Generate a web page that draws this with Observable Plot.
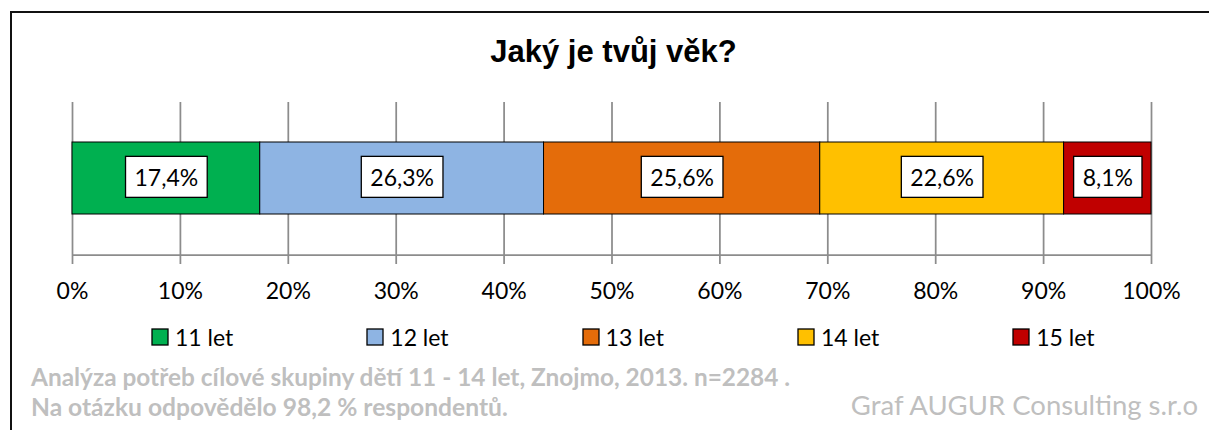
<!DOCTYPE html>
<html><head><meta charset="utf-8">
<script src="https://cdn.jsdelivr.net/npm/d3@7"></script>
<script src="https://cdn.jsdelivr.net/npm/@observablehq/plot@0.6"></script>
<style>
html,body{margin:0;padding:0;background:#fff;overflow:hidden;}
#wrap{position:relative;width:1209px;height:430px;overflow:hidden;background:#fff;}
#frameTop{position:absolute;left:10px;top:11px;width:1400px;height:2px;background:#111;}
#frameLeft{position:absolute;left:10px;top:11px;width:2px;height:419px;background:#111;}
#title{position:absolute;left:0;width:1209px;padding-left:18px;box-sizing:border-box;top:36px;text-align:center;font:bold 31px "Liberation Sans",Arial,sans-serif;line-height:31px;color:#000;white-space:nowrap;}
#chart{position:absolute;left:0;top:0;}
#legend{position:absolute;left:152px;top:323px;}
#legend .lg-swatches{margin:0 !important;font-family:Lato,sans-serif !important;font-size:23px !important;color:#000 !important;min-height:0 !important;display:flex !important;flex-wrap:nowrap !important;}
#legend .lg-swatch{width:215.3px !important;margin:0 !important;display:inline-flex !important;align-items:center !important;}
#legend .lg-swatch svg{margin-right:7px !important;overflow:visible;}
#legend .lg-swatch svg rect{stroke:#000;stroke-width:1.3px;}
.note{position:absolute;color:#bfbfbf;font-family:Lato,sans-serif;white-space:nowrap;}
#note1{left:31px;top:365px;font-size:24.4px;font-weight:bold;line-height:24.4px;}
#note2{left:31px;top:395px;font-size:24.6px;font-weight:bold;line-height:24.6px;}
#credit{right:11px;top:391px;font-size:27.5px;line-height:27.5px;}
</style>
</head><body>
<div id="wrap">
  <div id="frameTop"></div>
  <div id="frameLeft"></div>
  <div id="title"></div>
  <div id="chart"></div>
  <div id="legend"></div>
  <div class="note" id="note1"></div>
  <div class="note" id="note2"></div>
  <div class="note" id="credit"></div>
</div>
<script>
const question = "Jaký je tvůj věk?";
const ages = ["11 let", "12 let", "13 let", "14 let", "15 let"];
const shares = [17.4, 26.3, 25.6, 22.6, 8.1];
const colors = ["#00B050", "#8EB4E3", "#E46C0A", "#FFC000", "#C00000"];
const xTicks = [0, 10, 20, 30, 40, 50, 60, 70, 80, 90, 100];
const noteLines = [
  "Analýza potřeb cílové skupiny dětí 11 - 14 let, Znojmo, 2013. n=2284 .",
  "Na otázku odpovědělo 98,2 % respondentů."
];
const credit = "Graf AUGUR Consulting s.r.o";

const data = ages.map((age, i) => ({age, share: shares[i], q: question}));
const fmt = v => v.toFixed(1).replace(".", ",") + "%";
const gridColor = "#8c8c8c";

document.getElementById("title").textContent = question;
document.getElementById("note1").textContent = noteLines[0];
document.getElementById("note2").textContent = noteLines[1];
document.getElementById("credit").textContent = credit;

const chart = Plot.plot({
  width: 1209,
  height: 320,
  marginLeft: 72,
  marginRight: 58,
  marginTop: 102,
  marginBottom: 65,
  style: {background: "transparent", fontFamily: "Lato, sans-serif", fontSize: "23px", color: "#000", overflow: "visible"},
  x: {domain: [0, 100], label: null, axis: null},
  y: {axis: null, padding: 0.354, label: null},
  color: {domain: ages, range: colors},
  marks: [
    Plot.ruleX(xTicks, {stroke: gridColor, strokeWidth: 1.75}),
    Plot.axisX({ticks: xTicks, tickFormat: d => d + "%", tickSize: 9, tickPadding: 18, stroke: gridColor, strokeWidth: 1.75, fill: "#000", label: null, fontSize: 23}),
    (index, scales, values, dims) => {
      const y = dims.height - dims.marginBottom;
      return d3.create("svg:line")
        .attr("x1", scales.x(0)).attr("x2", scales.x(100))
        .attr("y1", y).attr("y2", y)
        .attr("stroke", gridColor).attr("stroke-width", 1.75).node();
    },
    Plot.barX(data, Plot.stackX({x: "share", y: "q", fill: "age", stroke: "#000", strokeWidth: 1})),
    Plot.text(data, Plot.stackX({x: "share", y: "q", text: d => fmt(d.share), fill: "#000", fontSize: 23}))
  ]
});
document.getElementById("chart").appendChild(chart);

// white label boxes behind the value labels
d3.select(chart).selectAll('g[aria-label="text"] text').each(function() {
  const bb = this.getBBox();
  const cy = bb.y + bb.height / 2;
  const r = document.createElementNS("http://www.w3.org/2000/svg", "rect");
  r.setAttribute("x", bb.x - 9);
  r.setAttribute("width", bb.width + 18);
  r.setAttribute("y", cy - 20.5);
  r.setAttribute("height", 41);
  r.setAttribute("fill", "#fff");
  r.setAttribute("stroke", "#000");
  r.setAttribute("stroke-width", 1.3);
  const t = this.getAttribute("transform");
  if (t) r.setAttribute("transform", t);
  this.parentNode.insertBefore(r, this);
});

const legend = Plot.legend({color: {domain: ages, range: colors}, swatchSize: 16, className: "lg"});
document.getElementById("legend").appendChild(legend);
</script>
</body></html>
